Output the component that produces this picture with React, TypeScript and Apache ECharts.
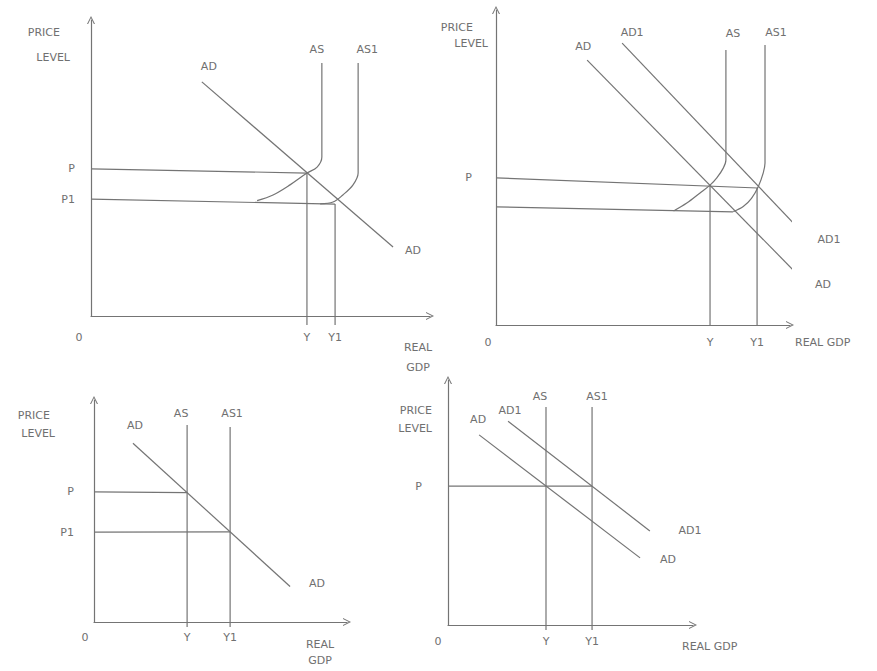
import React, { useEffect, useRef } from "react";
import * as echarts from "echarts";

// ---------- Data (each panel: Real GDP 0–100 on x, Price level 0–100 on y) ----------
// Panel 1 (top-left): supply shift with curved AS
const p1AD = [[32.7, 79.1], [89.1, 23.3]];
const p1AS = [[68.1, 85.5], [68.1, 53.7], [66.7, 50.3], [63.7, 48.3], [58.7, 44.3], [53.7, 40.9], [49.0, 39.0]];
const p1AS1 = [[78.8, 85.5], [78.8, 48.3], [77.3, 44.3], [74.3, 40.9], [71.4, 38.5], [67.6, 37.9]];
const p1P = [[0, 49.7], [63.7, 48.3]];
const p1P1 = [[0, 39.5], [72.0, 37.8]];
const p1Y = [[63.7, 48.3], [63.7, -3]];
const p1Y1 = [[72.0, 37.8], [72.0, -3]];
const p1XTicks = [0, 63.7, 72.0];
const p1XLabels = ["0", "Y", "Y1"];
const p1YTicks = [49.7, 39.5];
const p1YLabels = ["P", "P1"];

// Panel 2 (top-right): demand and supply shift with curved AS
const p2AD = [[31.0, 84.1], [104.4, 14.3]];
const p2AD1 = [[42.9, 89.5], [104.4, 29.2]];
const p2AS = [[78.2, 87.3], [78.2, 52.4], [77.3, 49.8], [75.1, 46.7], [72.8, 44.4], [69.4, 41.9], [64.9, 38.7], [60.4, 36.2]];
const p2AS1 = [[91.5, 88.9], [91.5, 51.4], [90.9, 48.3], [89.2, 43.9], [86.9, 40.2], [84.1, 37.6], [80.7, 36.0]];
const p2P = [[0, 46.7], [89.1, 43.5]];
const p2Low = [[0, 37.5], [80.6, 35.9]];
const p2Y = [[72.8, 44.4], [72.8, 0]];
const p2Y1 = [[88.8, 43.5], [88.8, 0]];
const p2XTicks = [0, 72.8, 88.8];
const p2XLabels = ["0", "Y", "Y1"];
const p2YTicks = [46.7];
const p2YLabels = ["P"];

// Panel 3 (bottom-left): vertical AS shift
const p3AD = [[15.4, 80.5], [77.5, 16.0]];
const p3AS = [[36.8, 88.7], [36.8, -2.3]];
const p3AS1 = [[53.8, 87.8], [53.8, -2.3]];
const p3P = [[0, 58.6], [36.8, 58.3]];
const p3P1 = [[0, 40.5], [53.8, 40.6]];
const p3XTicks = [0, 36.8, 53.8];
const p3XLabels = ["0", "Y", "Y1"];
const p3YTicks = [58.6, 40.5];
const p3YLabels = ["P", "P1"];

// Panel 4 (bottom-right): vertical AS and AD shift
const p4AD = [[12.7, 77.6], [78.4, 27.4]];
const p4AD1 = [[24.5, 83.2], [82.4, 38.4]];
const p4AS = [[40.0, 89.0], [40.0, -2.0]];
const p4AS1 = [[58.8, 89.0], [58.8, -2.0]];
const p4P = [[0, 56.7], [58.8, 56.7]];
const p4XTicks = [0, 40.0, 58.8];
const p4XLabels = ["0", "Y", "Y1"];
const p4YTicks = [56.7];
const p4YLabels = ["P"];

// ---------- Styles ----------
const LINE = "#747474";
const TEXT = "#707070";
const FONT = "'DejaVu Sans', sans-serif";
const FS = 11;
const CHEVRON = "path://M0,10 L5,0 L10,10 L8.6,10 L5,2.6 L1.4,10 Z";

const lbl = (text: string, dx: number, dy: number) => ({
  show: true,
  formatter: text,
  position: "inside",
  offset: [dx, dy],
});

function curve(gi: number, pts: number[][], first?: any, last?: any, smooth: number = 0) {
  return {
    type: "line",
    xAxisIndex: gi,
    yAxisIndex: gi,
    clip: false,
    smooth,
    showSymbol: true,
    symbol: "circle",
    symbolSize: 0,
    silent: true,
    lineStyle: { color: LINE, width: 1.2 },
    itemStyle: { color: LINE },
    label: { show: false, color: TEXT, fontSize: FS, fontFamily: FONT },
    emphasis: { disabled: true },
    data: pts.map((p, i) => {
      const item: any = { value: p };
      if (i === 0 && first) item.label = first;
      if (i === pts.length - 1 && last) item.label = last;
      return item;
    }),
  };
}

function pick(ticks: number[], labels: string[], v: number) {
  let best = 0;
  for (let i = 1; i < ticks.length; i++) {
    if (Math.abs(ticks[i] - v) < Math.abs(ticks[best] - v)) best = i;
  }
  return labels[best];
}

function xAxisOf(gi: number, ticks: number[], labels: string[], margin: number, zeroShift: number,
  name: string, nameGap: number, nameAlign: string, namePadTop: number, nameLH: number) {
  return {
    gridIndex: gi,
    type: "value",
    min: 0,
    max: 100,
    splitLine: { show: false },
    axisTick: { show: false },
    axisLine: {
      show: true,
      onZero: false,
      symbol: ["none", CHEVRON],
      symbolSize: [8, 9],
      lineStyle: { color: LINE, width: 1.2 },
    },
    axisLabel: {
      show: true,
      customValues: ticks,
      margin,
      color: TEXT,
      fontSize: FS,
      fontFamily: FONT,
      formatter: (v: number) => {
        const t = pick(ticks, labels, v);
        return t === "0" ? "{o|0}" : t;
      },
      rich: { o: { padding: [0, zeroShift, 0, 0], color: TEXT, fontSize: FS, fontFamily: FONT } },
    },
    name,
    nameLocation: "end",
    nameGap,
    nameMoveOverlap: false,
    nameTextStyle: {
      color: TEXT,
      fontSize: FS,
      fontFamily: FONT,
      align: nameAlign,
      verticalAlign: "top",
      lineHeight: nameLH,
      padding: [namePadTop, 0, 0, 0],
    },
  };
}

function yAxisOf(gi: number, ticks: number[], labels: string[], margin: number,
  nameGap: number, namePadRight: number, nameLH: number, priceShift: number) {
  const tok = { color: TEXT, fontSize: FS, fontFamily: FONT, lineHeight: nameLH };
  return {
    gridIndex: gi,
    type: "value",
    min: 0,
    max: 100,
    splitLine: { show: false },
    axisTick: { show: false },
    axisLine: {
      show: true,
      onZero: false,
      symbol: ["none", CHEVRON],
      symbolSize: [8, 9],
      lineStyle: { color: LINE, width: 1.2 },
    },
    axisLabel: {
      show: true,
      customValues: ticks,
      margin,
      color: TEXT,
      fontSize: FS,
      fontFamily: FONT,
      formatter: (v: number) => pick(ticks, labels, v),
    },
    name: "{a|PRICE}\n{b|LEVEL}",
    nameLocation: "end",
    nameGap,
    nameMoveOverlap: false,
    nameTextStyle: {
      color: TEXT,
      fontSize: FS,
      fontFamily: FONT,
      align: "right",
      verticalAlign: "top",
      lineHeight: nameLH,
      padding: [0, namePadRight, 0, 0],
      rich: {
        a: { ...tok, padding: [0, priceShift, 0, 0] },
        b: { ...tok },
      },
    },
  };
}

export default function App() {
  const ref = useRef<HTMLDivElement>(null);

  useEffect(() => {
    if (!ref.current) return;
    const chart = echarts.init(ref.current, null, { renderer: "svg" });

    const grids = [
      { left: 91, top: 20, width: 339, height: 296 },
      { left: 496, top: 10, width: 294, height: 315 },
      { left: 94, top: 400, width: 253, height: 222 },
      { left: 448, top: 380, width: 245, height: 245 },
    ].map((g) => ({ ...g, containLabel: false, outerBoundsMode: "none", show: false }));

    const xAxes = [
      xAxisOf(0, p1XTicks, p1XLabels, 16, 24, "REAL\nGDP", -12, "center", 21, 20),
      xAxisOf(1, p2XTicks, p2XLabels, 12, 16, "REAL GDP", 5, "left", 10, 14),
      xAxisOf(2, p3XTicks, p3XLabels, 10, 18, "REAL\nGDP", -27, "center", 14, 16),
      xAxisOf(3, p4XTicks, p4XLabels, 11, 20, "REAL GDP", -11, "left", 14, 14),
    ];
    const yAxes = [
      yAxisOf(0, p1YTicks, p1YLabels, 16, 0, 21, 25, 10),
      yAxisOf(1, p2YTicks, p2YLabels, 24, -9, 8, 16, 15),
      yAxisOf(2, p3YTicks, p3YLabels, 20, -6, 39, 18, 5),
      yAxisOf(3, p4YTicks, p4YLabels, 26, -21, 16, 18, 0),
    ];

    const series = [
      // Panel 1
      curve(0, p1AD, lbl("AD", 7, -15), lbl("AD", 20, 3)),
      curve(0, p1AS, lbl("AS", -5, -13), null, 0.35),
      curve(0, p1AS1, lbl("AS1", 9, -13), null, 0.35),
      curve(0, p1P),
      curve(0, p1P1),
      curve(0, p1Y),
      curve(0, p1Y1),
      // Panel 2
      curve(1, p2AD, lbl("AD", -4, -14), lbl("AD", 20, 5)),
      curve(1, p2AD1, lbl("AD1", 10, -11), lbl("AD1", 26, 6)),
      curve(1, p2AS, lbl("AS", 7, -17), null, 0.35),
      curve(1, p2AS1, lbl("AS1", 11, -12), null, 0.35),
      curve(1, p2P),
      curve(1, p2Low),
      curve(1, p2Y),
      curve(1, p2Y1),
      // Panel 3
      curve(2, p3AD, lbl("AD", 2, -18), lbl("AD", 27, -3)),
      curve(2, p3AS, lbl("AS", -6, -12)),
      curve(2, p3AS1, lbl("AS1", 2, -14)),
      curve(2, p3P),
      curve(2, p3P1),
      // Panel 4
      curve(3, p4AD, lbl("AD", -1, -15), lbl("AD", 28, 2)),
      curve(3, p4AD1, lbl("AD1", 2, -11), lbl("AD1", 40, 0)),
      curve(3, p4AS, lbl("AS", -6, -10)),
      curve(3, p4AS1, lbl("AS1", 5, -10)),
      curve(3, p4P),
    ];

    chart.setOption({
      animation: false,
      backgroundColor: "#ffffff",
      grid: grids,
      xAxis: xAxes,
      yAxis: yAxes,
      series,
    });

    return () => chart.dispose();
  }, []);

  return (
    <div
      ref={ref}
      style={{ position: "fixed", left: 0, top: 0, width: 877, height: 671, background: "#fff" }}
    />
  );
}
